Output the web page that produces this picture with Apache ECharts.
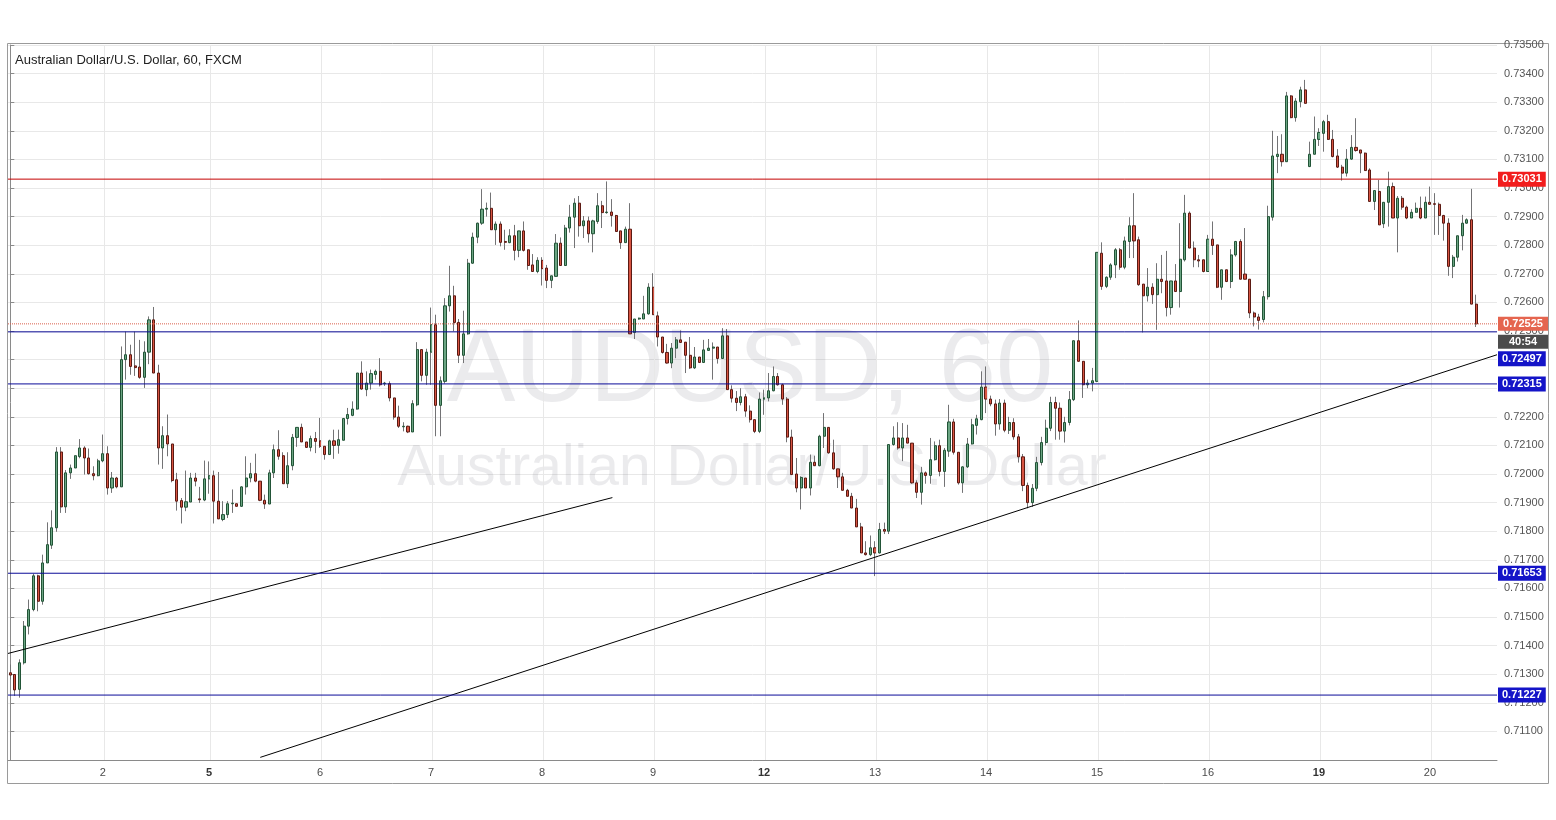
<!DOCTYPE html>
<html><head><meta charset="utf-8">
<script src="https://cdn.jsdelivr.net/npm/echarts@6/dist/echarts.min.js"></script>
<style>html,body{margin:0;padding:0;background:#fff}#c{width:1556px;height:820px}</style>
</head><body><div id="c"></div>
<script>
// each candle: [open, close, low, high]
const day01 = [[0.71305,0.71297,0.71282,0.71334],[0.71299,0.71245,0.71224,0.71300],[0.71247,0.71340,0.71218,0.71352],[0.71340,0.71468,0.71334,0.71486],[0.71468,0.71526,0.71439,0.71561],[0.71526,0.71644,0.71520,0.71651],[0.71644,0.71555,0.71520,0.71648],[0.71555,0.71689,0.71543,0.71718],[0.71689,0.71753,0.71689,0.71831],[0.71751,0.71812,0.71738,0.71873],[0.71812,0.72077,0.71798,0.72094],[0.72077,0.71885,0.71864,0.72094],[0.71885,0.72004,0.71864,0.72014],[0.72004,0.72021,0.71983,0.72033],[0.72021,0.72064,0.72021,0.72064],[0.72061,0.72091,0.72055,0.72122],[0.72091,0.72056,0.71998,0.72097],[0.72056,0.72001,0.71998,0.72089],[0.72001,0.71994,0.71978,0.72027],[0.71994,0.72046,0.71992,0.72053]];
const day02 = [[0.72046,0.72071,0.72041,0.72138],[0.72071,0.71951,0.71928,0.72097],[0.71951,0.71986,0.71934,0.72007],[0.71986,0.71955,0.71950,0.71990],[0.71955,0.72400,0.71955,0.72446],[0.72400,0.72417,0.72330,0.72498],[0.72417,0.72376,0.72347,0.72452],[0.72378,0.72372,0.72343,0.72498],[0.72374,0.72338,0.72333,0.72469],[0.72338,0.72426,0.72301,0.72464],[0.72426,0.72539,0.72384,0.72551],[0.72539,0.72353,0.72353,0.72584],[0.72353,0.72091,0.72033,0.72382],[0.72091,0.72134,0.72018,0.72167],[0.72134,0.72105,0.72062,0.72208],[0.72105,0.71977,0.71971,0.72105],[0.71980,0.71905,0.71872,0.72004],[0.71907,0.71884,0.71827,0.71916],[0.71884,0.71903,0.71870,0.72012],[0.71902,0.71986,0.71902,0.72004],[0.71986,0.71975,0.71957,0.72004],[0.71913,0.71910,0.71899,0.71955],[0.71909,0.71983,0.71905,0.72047]];
const day05 = [[0.71983,0.71994,0.71931,0.72044],[0.71994,0.71905,0.71827,0.72012],[0.71905,0.71843,0.71843,0.72007],[0.71841,0.71858,0.71835,0.71905],[0.71858,0.71896,0.71846,0.71905],[0.71896,0.71898,0.71864,0.71946],[0.71896,0.71887,0.71887,0.71896],[0.71887,0.71955,0.71885,0.71957],[0.71955,0.71986,0.71928,0.72062],[0.71986,0.72001,0.71971,0.72039],[0.72001,0.71975,0.71971,0.72071],[0.71975,0.71908,0.71905,0.71975],[0.71908,0.71895,0.71878,0.71928],[0.71895,0.72004,0.71895,0.72015],[0.72004,0.72085,0.71986,0.72103],[0.72085,0.72062,0.72050,0.72153],[0.72064,0.71966,0.71966,0.72076],[0.71966,0.72029,0.71951,0.72076],[0.72029,0.72128,0.72013,0.72140],[0.72128,0.72163,0.72095,0.72163],[0.72163,0.72112,0.72112,0.72176],[0.72112,0.72093,0.72091,0.72112],[0.72093,0.72124,0.72079,0.72134],[0.72124,0.72114,0.72073,0.72147]];
const day06 = [[0.72116,0.72097,0.72091,0.72196],[0.72097,0.72068,0.72050,0.72097],[0.72068,0.72116,0.72068,0.72120],[0.72116,0.72100,0.72053,0.72155],[0.72100,0.72120,0.72071,0.72155],[0.72118,0.72194,0.72118,0.72196],[0.72194,0.72208,0.72173,0.72231],[0.72205,0.72227,0.72202,0.72254],[0.72227,0.72353,0.72225,0.72353],[0.72353,0.72297,0.72295,0.72394],[0.72295,0.72318,0.72272,0.72359],[0.72318,0.72351,0.72295,0.72365],[0.72348,0.72359,0.72330,0.72365],[0.72359,0.72312,0.72306,0.72405],[0.72316,0.72318,0.72308,0.72322],[0.72316,0.72266,0.72254,0.72324],[0.72266,0.72199,0.72190,0.72266],[0.72199,0.72167,0.72161,0.72239],[0.72165,0.72167,0.72149,0.72181],[0.72167,0.72147,0.72143,0.72169],[0.72147,0.72246,0.72147,0.72258],[0.72242,0.72435,0.72237,0.72461],[0.72435,0.72345,0.72324,0.72435],[0.72345,0.72426,0.72312,0.72438]];
const day07 = [[0.72426,0.72522,0.72312,0.72582],[0.72522,0.72240,0.72132,0.72557],[0.72240,0.72326,0.72132,0.72341],[0.72324,0.72588,0.72316,0.72615],[0.72588,0.72623,0.72568,0.72728],[0.72623,0.72530,0.72499,0.72658],[0.72530,0.72415,0.72388,0.72542],[0.72415,0.72490,0.72388,0.72571],[0.72490,0.72737,0.72487,0.72752],[0.72737,0.72828,0.72735,0.72844],[0.72828,0.72877,0.72807,0.72879],[0.72877,0.72926,0.72871,0.72996],[0.72926,0.72929,0.72900,0.72949],[0.72929,0.72854,0.72854,0.72984],[0.72854,0.72874,0.72801,0.72883],[0.72874,0.72810,0.72796,0.72883],[0.72813,0.72810,0.72784,0.72854],[0.72809,0.72833,0.72807,0.72856],[0.72833,0.72782,0.72747,0.72871],[0.72782,0.72850,0.72758,0.72850],[0.72850,0.72782,0.72778,0.72883],[0.72784,0.72729,0.72714,0.72784],[0.72731,0.72708,0.72708,0.72769],[0.72708,0.72747,0.72702,0.72758]];
const day08 = [[0.72747,0.72718,0.72659,0.72758],[0.72720,0.72677,0.72650,0.72731],[0.72677,0.72693,0.72650,0.72693],[0.72691,0.72807,0.72691,0.72839],[0.72807,0.72729,0.72729,0.72827],[0.72729,0.72860,0.72729,0.72871],[0.72860,0.72898,0.72844,0.72941],[0.72898,0.72947,0.72790,0.72964],[0.72947,0.72868,0.72830,0.72972],[0.72868,0.72885,0.72825,0.72902],[0.72885,0.72840,0.72809,0.72900],[0.72840,0.72885,0.72775,0.72889],[0.72883,0.72938,0.72875,0.72982],[0.72938,0.72914,0.72860,0.72955],[0.72914,0.72916,0.72910,0.73023],[0.72916,0.72904,0.72865,0.72961],[0.72904,0.72848,0.72848,0.72906],[0.72850,0.72809,0.72787,0.72850],[0.72809,0.72856,0.72809,0.72865],[0.72856,0.72490,0.72490,0.72947],[0.72495,0.72542,0.72472,0.72542],[0.72542,0.72545,0.72539,0.72547],[0.72542,0.72560,0.72542,0.72623],[0.72560,0.72653,0.72557,0.72667]];
const day09 = [[0.72653,0.72557,0.72557,0.72702],[0.72553,0.72479,0.72446,0.72568],[0.72479,0.72425,0.72421,0.72479],[0.72425,0.72388,0.72386,0.72455],[0.72388,0.72440,0.72370,0.72458],[0.72440,0.72469,0.72405,0.72479],[0.72469,0.72460,0.72460,0.72502],[0.72461,0.72415,0.72353,0.72461],[0.72415,0.72371,0.72367,0.72479],[0.72371,0.72409,0.72367,0.72444],[0.72409,0.72390,0.72388,0.72409],[0.72390,0.72434,0.72388,0.72469],[0.72432,0.72440,0.72432,0.72472],[0.72440,0.72444,0.72330,0.72460],[0.72444,0.72404,0.72386,0.72444],[0.72404,0.72483,0.72404,0.72510],[0.72483,0.72295,0.72295,0.72507],[0.72295,0.72265,0.72250,0.72310],[0.72265,0.72250,0.72220,0.72290],[0.72250,0.72270,0.72240,0.72300],[0.72270,0.72220,0.72200,0.72280],[0.72220,0.72190,0.72180,0.72240],[0.72190,0.72149,0.72143,0.72190],[0.72149,0.72262,0.72143,0.72285]];
const day12 = [[0.72262,0.72266,0.72207,0.72295],[0.72266,0.72291,0.72254,0.72353],[0.72291,0.72341,0.72289,0.72376],[0.72341,0.72312,0.72309,0.72353],[0.72312,0.72262,0.72242,0.72316],[0.72262,0.72129,0.72111,0.72269],[0.72129,0.71998,0.71998,0.72155],[0.72000,0.71951,0.71936,0.72056],[0.71951,0.71988,0.71876,0.71992],[0.71986,0.71951,0.71951,0.71986],[0.71951,0.72041,0.71925,0.72068],[0.72041,0.72029,0.72029,0.72064],[0.72029,0.72132,0.72027,0.72137],[0.72132,0.72163,0.72091,0.72213],[0.72163,0.72074,0.72071,0.72163],[0.72074,0.72018,0.72015,0.72120],[0.72018,0.71990,0.71951,0.72018],[0.71990,0.71943,0.71943,0.72004],[0.71943,0.71922,0.71922,0.71948],[0.71922,0.71881,0.71881,0.71934],[0.71881,0.71815,0.71815,0.71913],[0.71815,0.71724,0.71724,0.71829],[0.71724,0.71718,0.71715,0.71765],[0.71718,0.71742,0.71713,0.71785]];
const day13 = [[0.71742,0.71724,0.71643,0.71765],[0.71724,0.71806,0.71722,0.71829],[0.71806,0.71800,0.71790,0.71830],[0.71800,0.72103,0.71790,0.72103],[0.72103,0.72126,0.72099,0.72167],[0.72126,0.72091,0.72085,0.72181],[0.72091,0.72126,0.72045,0.72178],[0.72126,0.72108,0.72108,0.72172],[0.72108,0.71969,0.71966,0.72108],[0.71969,0.71936,0.71916,0.71978],[0.71936,0.72004,0.71893,0.72025],[0.72004,0.71995,0.71966,0.72009],[0.71995,0.72050,0.71966,0.72126],[0.72050,0.72099,0.72047,0.72114],[0.72099,0.72009,0.71992,0.72120],[0.72009,0.72083,0.71955,0.72091],[0.72080,0.72182,0.72060,0.72242],[0.72182,0.72076,0.72068,0.72193],[0.72076,0.71969,0.71963,0.72076],[0.71969,0.72025,0.71934,0.72027],[0.72025,0.72105,0.72021,0.72126],[0.72105,0.72172,0.72103,0.72193],[0.72170,0.72193,0.72138,0.72207],[0.72190,0.72304,0.72188,0.72359]];
const day14 = [[0.72304,0.72262,0.72213,0.72376],[0.72262,0.72245,0.72237,0.72274],[0.72245,0.72175,0.72134,0.72260],[0.72175,0.72248,0.72155,0.72262],[0.72248,0.72153,0.72146,0.72260],[0.72153,0.72180,0.72140,0.72200],[0.72180,0.72130,0.72120,0.72195],[0.72130,0.72060,0.72040,0.72140],[0.72060,0.71960,0.71940,0.72070],[0.71960,0.71900,0.71880,0.71970],[0.71900,0.71950,0.71885,0.71965],[0.71950,0.72040,0.71940,0.72060],[0.72040,0.72110,0.72030,0.72130],[0.72110,0.72160,0.72100,0.72190],[0.72160,0.72250,0.72150,0.72270],[0.72250,0.72230,0.72120,0.72270],[0.72230,0.72150,0.72120,0.72250],[0.72150,0.72180,0.72110,0.72200],[0.72180,0.72260,0.72170,0.72290],[0.72260,0.72466,0.72255,0.72466],[0.72466,0.72394,0.72394,0.72537],[0.72394,0.72312,0.72266,0.72394],[0.72312,0.72318,0.72300,0.72330],[0.72318,0.72326,0.72289,0.72371]];
const day15 = [[0.72324,0.72775,0.72321,0.72775],[0.72772,0.72656,0.72644,0.72810],[0.72656,0.72688,0.72650,0.72691],[0.72688,0.72731,0.72679,0.72737],[0.72731,0.72784,0.72685,0.72790],[0.72784,0.72723,0.72714,0.72790],[0.72723,0.72815,0.72716,0.72830],[0.72813,0.72868,0.72755,0.72898],[0.72868,0.72815,0.72755,0.72982],[0.72819,0.72662,0.72658,0.72830],[0.72664,0.72623,0.72495,0.72664],[0.72623,0.72653,0.72603,0.72720],[0.72653,0.72627,0.72595,0.72667],[0.72627,0.72681,0.72504,0.72737],[0.72681,0.72673,0.72632,0.72766],[0.72675,0.72582,0.72551,0.72780],[0.72582,0.72675,0.72557,0.72675],[0.72675,0.72638,0.72638,0.72734],[0.72638,0.72751,0.72582,0.72877],[0.72749,0.72912,0.72743,0.72976],[0.72912,0.72790,0.72790,0.72918],[0.72790,0.72749,0.72723,0.72813],[0.72749,0.72745,0.72723,0.72766],[0.72749,0.72708,0.72705,0.72749]];
const day16 = [[0.72708,0.72821,0.72708,0.72836],[0.72821,0.72799,0.72766,0.72883],[0.72801,0.72653,0.72650,0.72801],[0.72653,0.72714,0.72609,0.72714],[0.72714,0.72673,0.72671,0.72714],[0.72673,0.72766,0.72650,0.72786],[0.72766,0.72813,0.72760,0.72815],[0.72813,0.72681,0.72681,0.72821],[0.72699,0.72681,0.72681,0.72860],[0.72681,0.72563,0.72545,0.72681],[0.72563,0.72549,0.72516,0.72568],[0.72549,0.72537,0.72505,0.72560],[0.72540,0.72620,0.72530,0.72640],[0.72620,0.72900,0.72610,0.72938],[0.72898,0.73112,0.72886,0.73200],[0.73110,0.73118,0.73052,0.73182],[0.73118,0.73092,0.73075,0.73188],[0.73092,0.73322,0.73092,0.73336],[0.73322,0.73246,0.73244,0.73325],[0.73246,0.73304,0.73232,0.73314],[0.73302,0.73343,0.73282,0.73354],[0.73343,0.73296,0.73296,0.73378],[0.73075,0.73118,0.73073,0.73162],[0.73118,0.73170,0.73118,0.73250]];
const day19 = [[0.73170,0.73194,0.73147,0.73209],[0.73191,0.73232,0.73127,0.73238],[0.73232,0.73170,0.73168,0.73256],[0.73170,0.73110,0.73107,0.73203],[0.73112,0.73073,0.73070,0.73136],[0.73073,0.73052,0.73026,0.73081],[0.73052,0.73101,0.73040,0.73136],[0.73101,0.73142,0.73098,0.73185],[0.73142,0.73131,0.73127,0.73244],[0.73133,0.73122,0.73052,0.73133],[0.73122,0.73061,0.73061,0.73124],[0.73063,0.72953,0.72953,0.73069],[0.72953,0.72991,0.72923,0.72991],[0.72988,0.72871,0.72871,0.73028],[0.72875,0.72950,0.72860,0.72950],[0.72950,0.73005,0.72865,0.73057],[0.73005,0.72895,0.72895,0.73019],[0.72895,0.72964,0.72775,0.72972],[0.72964,0.72933,0.72924,0.72972],[0.72933,0.72895,0.72891,0.72938],[0.72895,0.72915,0.72895,0.72926],[0.72915,0.72929,0.72914,0.72949],[0.72929,0.72895,0.72891,0.72970],[0.72895,0.72950,0.72895,0.72970]];
const day20 = [[0.72950,0.72943,0.72943,0.73005],[0.72945,0.72943,0.72836,0.72982],[0.72943,0.72904,0.72836,0.72949],[0.72904,0.72877,0.72816,0.72906],[0.72877,0.72726,0.72693,0.72894],[0.72726,0.72758,0.72685,0.72766],[0.72758,0.72833,0.72743,0.72833],[0.72833,0.72877,0.72782,0.72906],[0.72877,0.72889,0.72875,0.72894],[0.72889,0.72594,0.72594,0.72997],[0.72594,0.72525,0.72514,0.72627]];

const days = [day01, day02, day05, day06, day07, day08, day09, day12, day13, day14, day15, day16, day19, day20];
const dayLabels = ['', '2', '5', '6', '7', '8', '9', '12', '13', '14', '15', '16', '19', '20'];
const mondayLabels = ['5', '12', '19'];
const emptySlotsAfter = 4;

const yTickMin = 0.7100, yTickMax = 0.7350, yTickStep = 0.0010;
const resistanceLevel = 0.73031;
const supportLevels = [0.72497, 0.72315, 0.71653, 0.71227];
const lastPrice = 0.72525;
const countdown = '40:54';
// trend lines: [candle index, price] endpoints
const trendLineA = [[-0.5, 0.713725], [130.2, 0.719175]];
const trendLineB = [[54.05, 0.710092], [321.5, 0.724170]];

const title = 'Australian Dollar/U.S. Dollar, 60, FXCM';
const watermark1 = 'AUDUSD, 60';
const watermark2 = 'Australian Dollar/U.S. Dollar';

// build
const candles = [];
const cats = [];
const dayStarts = [];
days.forEach((d, k) => {
  dayStarts.push(candles.length);
  d.forEach((c, j) => { candles.push(c); cats.push(j === 0 ? dayLabels[k] : ''); });
});
for (let i = 0; i < emptySlotsAfter; i++) cats.push('');
const nSlots = cats.length;
const xMin = -0.5, xMax = nSlots - 0.5;
const bodies = candles.map(c => [c[0], c[1], Math.min(c[0], c[1]), Math.max(c[0], c[1])]);

const chart = echarts.init(document.getElementById('c'), null, {renderer: 'canvas'});
const FONT = 'Arial, "Liberation Sans", sans-serif';
const blue = '#0b0b98';

function levelSeries(value, lineColor, lineType, label) {
  return {
    type: 'line', xAxisIndex: 1, yAxisIndex: 0, z: 7, silent: true, symbol: 'none',
    data: [[xMin, value], [xMax, value]],
    lineStyle: {color: lineColor, width: 1, type: lineType},
    endLabel: Object.assign({show: true, distance: 1, color: '#fff', fontSize: 11, fontWeight: 'bold',
      fontFamily: FONT, padding: [2, 4, 2, 4]}, label)
  };
}

const option = {
  animation: false,
  backgroundColor: '#fff',
  grid: {left: 8, right: 59, top: 45, bottom: 60, containLabel: false},
  xAxis: [{
    type: 'category', data: cats, boundaryGap: true,
    axisLine: {show: true, lineStyle: {color: '#8a8a8a'}},
    axisTick: {show: false},
    splitLine: {show: false},
    axisLabel: {
      interval: 0, margin: 7, color: '#4a4a4a', fontSize: 11, fontFamily: FONT,
      formatter: v => v === '' ? '' : (mondayLabels.includes(v) ? '{b|' + v + '}' : v),
      rich: {b: {fontWeight: 'bold', fontSize: 11, color: '#333', fontFamily: FONT}}
    }
  }, {
    type: 'value', min: xMin, max: xMax, show: false, gridIndex: 0
  }],
  yAxis: {
    type: 'value', position: 'right', min: yTickMin, max: yTickMax, interval: yTickStep,
    axisLine: {show: true, lineStyle: {color: '#8a8a8a'}},
    axisTick: {show: true, length: 4, lineStyle: {color: '#8a8a8a'}},
    splitLine: {show: true, lineStyle: {color: '#e8e8e8', width: 1}},
    axisLabel: {showMinLabel: false, color: '#555', fontSize: 11, fontFamily: FONT, margin: 7,
      formatter: v => v.toFixed(5)}
  },
  graphic: [
    {type: 'rect', z: 0, silent: true, shape: {x: 7.5, y: 43.5, width: 1541, height: 740}, style: {fill: 'none', stroke: '#9a9a9a', lineWidth: 1}},
    {type: 'text', z: 1, silent: true, x: 750, y: 373, style: {text: watermark1, font: '103px Arial, "Liberation Sans", sans-serif', fill: 'rgba(120,123,134,0.15)', align: 'center', verticalAlign: 'middle'}},
    {type: 'text', z: 1, silent: true, x: 752, y: 469, style: {text: watermark2, font: '57px Arial, "Liberation Sans", sans-serif', fill: 'rgba(120,123,134,0.15)', align: 'center', verticalAlign: 'middle'}},
    {type: 'text', z: 20, silent: true, x: 15, y: 60, style: {text: title, font: '13px Arial, "Liberation Sans", sans-serif', fill: '#222', align: 'left', verticalAlign: 'middle'}}
  ],
  series: [
    { // day separators
      type: 'line', xAxisIndex: 1, yAxisIndex: 0, data: [], z: 1, silent: true,
      markLine: {silent: true, symbol: ['none', 'none'], animation: false, label: {show: false},
        lineStyle: {color: '#e8e8e8', width: 1, type: 'solid'},
        data: dayStarts.slice(1).map(i => ({xAxis: i + 0.25}))}
    },
    { // wicks
      type: 'candlestick', name: 'wick', data: candles, barWidth: 1, z: 3, silent: true,
      itemStyle: {color: '#737375', color0: '#737375', borderColor: '#737375', borderColor0: '#737375', borderWidth: 1}
    },
    { // bodies
      type: 'candlestick', name: 'body', data: bodies, barWidth: 2.6, z: 4, silent: true,
      itemStyle: {color: '#6ba583', color0: '#d75442', borderColor: '#225437', borderColor0: '#5b1a13', borderWidth: 1}
    },
    {
      type: 'line', xAxisIndex: 1, yAxisIndex: 0, data: trendLineA, z: 6, silent: true,
      symbol: 'none', lineStyle: {color: '#000', width: 1}
    },
    {
      type: 'line', xAxisIndex: 1, yAxisIndex: 0, data: trendLineB, z: 6, silent: true,
      symbol: 'none', lineStyle: {color: '#000', width: 1}
    },
    levelSeries(resistanceLevel, '#c40000', 'solid', {backgroundColor: '#f21d1d', formatter: () => resistanceLevel.toFixed(5)}),
    levelSeries(lastPrice, '#d9604c', 'dotted', {
      padding: 0, offset: [0, 9],
      formatter: () => '{a|' + lastPrice.toFixed(5) + '}\n{b|' + countdown + '}',
      rich: {
        a: {backgroundColor: '#e5654f', color: '#fff', fontSize: 11, fontWeight: 'bold', fontFamily: FONT, width: 42, height: 14, align: 'center', padding: [0, 4, 0, 4], lineHeight: 18},
        b: {backgroundColor: '#4c4c4c', color: '#fff', fontSize: 11, fontWeight: 'bold', fontFamily: FONT, width: 42, height: 14, align: 'center', padding: [0, 4, 0, 4], lineHeight: 18}
      }
    }),
    ...supportLevels.map((v, k) => levelSeries(v, blue, 'solid', {backgroundColor: '#1414c8', formatter: () => v.toFixed(5), offset: k === 0 ? [0, 27] : [0, 0]}))
  ]
};
chart.setOption(option);
</script>
</body></html>
